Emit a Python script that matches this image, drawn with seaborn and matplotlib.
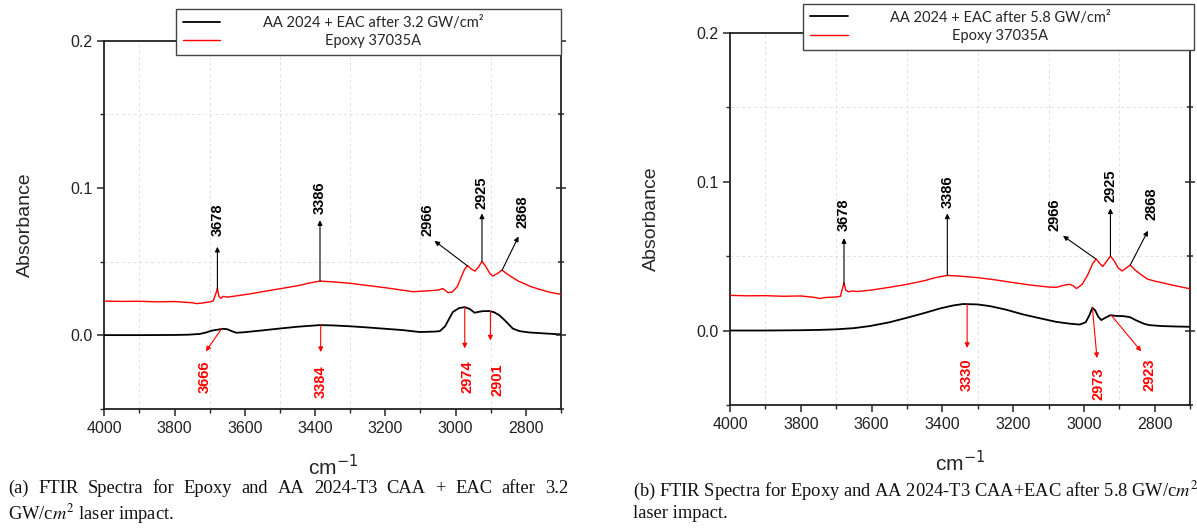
import numpy as np
import pandas as pd
import seaborn as sns
import matplotlib.pyplot as plt
from matplotlib.ticker import MultipleLocator

# ---- panel (a): 3.2 GW/cm2 ----
wn_a_epoxy = [4000, 3950, 3900, 3850, 3800, 3750, 3737, 3720, 3700, 3690, 3682, 3678, 3674,
              3668, 3662, 3650, 3620, 3580, 3538, 3500, 3444, 3420, 3386, 3350, 3300, 3254,
              3200, 3150, 3121, 3083, 3050, 3036, 3022, 3010, 2995, 2984, 2975, 2966, 2955,
              2945, 2935, 2925, 2915, 2903, 2894, 2880, 2868, 2855, 2837, 2820, 2800, 2789,
              2760, 2730, 2700]
abs_a_epoxy = [0.0231, 0.0229, 0.0230, 0.0226, 0.0228, 0.0220, 0.0214, 0.0218, 0.0226, 0.0232,
               0.0285, 0.0318, 0.0265, 0.0250, 0.0263, 0.0258, 0.0268, 0.0282, 0.0300, 0.0315,
               0.0338, 0.0352, 0.0367, 0.0362, 0.0352, 0.0338, 0.0322, 0.0305, 0.0295, 0.0300,
               0.0306, 0.0316, 0.0289, 0.0292, 0.0330, 0.0395, 0.0445, 0.0472, 0.0448, 0.0435,
               0.0462, 0.0500, 0.0470, 0.0420, 0.0401, 0.0420, 0.0442, 0.0418, 0.0390, 0.0365,
               0.0345, 0.0332, 0.0310, 0.0290, 0.0277]
wn_a_eac = [4000, 3900, 3800, 3760, 3728, 3710, 3695, 3680, 3662, 3650, 3635, 3624, 3600,
            3550, 3500, 3450, 3387, 3350, 3300, 3250, 3200, 3150, 3102, 3060, 3045, 3030,
            3008, 2990, 2974, 2960, 2946, 2935, 2922, 2903, 2890, 2875, 2860, 2837, 2818,
            2790, 2750, 2700]
abs_a_eac = [0.0000, 0.0000, 0.0001, 0.0003, 0.0008, 0.0018, 0.0030, 0.0036, 0.0043, 0.0040,
             0.0025, 0.0016, 0.0020, 0.0032, 0.0045, 0.0057, 0.0068, 0.0066, 0.0060, 0.0052,
             0.0043, 0.0034, 0.0021, 0.0024, 0.0027, 0.0060, 0.0157, 0.0184, 0.0190, 0.0178,
             0.0152, 0.0158, 0.0163, 0.0163, 0.0155, 0.0134, 0.0100, 0.0044, 0.0027, 0.0018,
             0.0012, 0.0005]

# ---- panel (b): 5.8 GW/cm2 ----
wn_b_epoxy = [4000, 3950, 3900, 3850, 3800, 3760, 3746, 3730, 3700, 3688, 3682, 3678, 3673,
              3665, 3655, 3640, 3600, 3550, 3500, 3450, 3420, 3386, 3350, 3300, 3250, 3200,
              3150, 3100, 3078, 3055, 3040, 3030, 3021, 3005, 2990, 2975, 2965, 2955, 2947,
              2937, 2925, 2915, 2903, 2892, 2880, 2869, 2855, 2833, 2820, 2800, 2777, 2750,
              2720, 2700]
abs_b_epoxy = [0.0236, 0.0233, 0.0234, 0.0230, 0.0232, 0.0222, 0.0215, 0.0222, 0.0225, 0.0230,
               0.0285, 0.0320, 0.0270, 0.0260, 0.0265, 0.0262, 0.0272, 0.0290, 0.0310, 0.0335,
               0.0355, 0.0370, 0.0365, 0.0355, 0.0340, 0.0322, 0.0305, 0.0292, 0.0290, 0.0305,
               0.0310, 0.0300, 0.0282, 0.0310, 0.0370, 0.0450, 0.0480, 0.0450, 0.0430, 0.0460,
               0.0500, 0.0470, 0.0420, 0.0400, 0.0420, 0.0440, 0.0405, 0.0366, 0.0345, 0.0332,
               0.0320, 0.0305, 0.0290, 0.0280]
wn_b_eac = [4000, 3900, 3800, 3750, 3700, 3650, 3605, 3550, 3501, 3450, 3407, 3370, 3341,
            3300, 3266, 3220, 3172, 3120, 3078, 3040, 3012, 2995, 2985, 2976, 2968, 2960,
            2951, 2940, 2925, 2910, 2890, 2870, 2852, 2830, 2814, 2780, 2740, 2700]
abs_b_eac = [0.0000, 0.0000, 0.0002, 0.0004, 0.0008, 0.0016, 0.0030, 0.0055, 0.0085, 0.0118,
             0.0148, 0.0168, 0.0178, 0.0175, 0.0164, 0.0140, 0.0108, 0.0080, 0.0058, 0.0046,
             0.0040, 0.0055, 0.0100, 0.0153, 0.0135, 0.0095, 0.0070, 0.0085, 0.0103, 0.0098,
             0.0097, 0.0090, 0.0068, 0.0045, 0.0036, 0.0030, 0.0027, 0.0025]

# peak labels: label, peak (x, y), arrow tip (x, y), text anchor (x, y)
marks_a_black = [("3678", (3678, 0.031), (3678, 0.060), (3678, 0.067)),
                 ("3386", (3386, 0.0367), (3386, 0.078), (3386, 0.082)),
                 ("2966", (2966, 0.047), (3060, 0.064), (3080, 0.067)),
                 ("2925", (2925, 0.050), (2925, 0.0826), (2925, 0.086)),
                 ("2868", (2868, 0.044), (2821, 0.067), (2810, 0.073))]
marks_a_red = [("3666", (3666, 0.0043), (3711, -0.011), (3714, -0.017)),
               ("3384", (3384, 0.0068), (3384, -0.0115), (3384, -0.0205)),
               ("2974", (2974, 0.019), (2974, -0.009), (2966, -0.017)),
               ("2901", (2901, 0.0163), (2901, -0.0036), (2882, -0.0195))]
marks_b_black = [("3678", (3678, 0.031), (3678, 0.062), (3678, 0.067)),
                 ("3386", (3386, 0.037), (3386, 0.0786), (3386, 0.082)),
                 ("2966", (2966, 0.048), (3059, 0.0636), (3082, 0.067)),
                 ("2925", (2925, 0.050), (2925, 0.082), (2925, 0.086)),
                 ("2868", (2869, 0.044), (2819, 0.067), (2810, 0.074))]
marks_b_red = [("3330", (3330, 0.0178), (3330, -0.0117), (3330, -0.019)),
               ("2973", (2976, 0.0153), (2963, -0.0185), (2960, -0.025)),
               ("2923", (2923, 0.0103), (2838, -0.014), (2814, -0.019))]

legend_a = ["AA 2024 + EAC after 3.2 GW/cm²", "Epoxy 37035A"]
legend_b = ["AA 2024 + EAC after 5.8 GW/cm²", "Epoxy 37035A"]
caption_a1 = "(a) FTIR Spectra for Epoxy and AA 2024-T3 CAA + EAC after 3.2"
caption_a2 = "GW/c$m^2$ laser impact."
caption_b = ("(b) FTIR Spectra for Epoxy and AA 2024-T3 CAA+EAC after 5.8 GW/c$m^2$\n"
             "laser impact.")

sns.set_theme(style="ticks")
plt.rcParams["font.family"] = ["Liberation Sans", "DejaVu Sans"]

NUM_FONT = ["Liberation Sans Narrow", "Liberation Sans", "DejaVu Sans"]
CAP = dict(fontsize=13.3, family=["Liberation Serif", "DejaVu Serif"],
           math_fontfamily="stix", color="#111111")
W, H = 1197, 528


def mark(ax, label, peak, tip, txt, color, above):
    ax.annotate("", xy=tip, xytext=peak,
                arrowprops=dict(arrowstyle="-|>", color=color, lw=0.8,
                                mutation_scale=7, shrinkA=0, shrinkB=0))
    ax.text(txt[0], txt[1], label, rotation=90, ha="center",
            va="bottom" if above else "top", color=color, fontsize=10.5,
            fontweight="bold", family=NUM_FONT)


def panel(ax, wn_e, ab_e, wn_k, ab_k, marks_k, marks_r, labels, leg_box):
    sns.lineplot(x=wn_k, y=ab_k, ax=ax, color="black", lw=1.3, sort=False,
                 estimator=None, zorder=3)
    sns.lineplot(x=wn_e, y=ab_e, ax=ax, color="#ff0000", lw=1.0, sort=False,
                 estimator=None, zorder=3)
    ax.set_xlim(4000, 2700)
    ax.set_ylim(-0.05, 0.2)
    ax.xaxis.set_major_locator(MultipleLocator(200))
    ax.xaxis.set_minor_locator(MultipleLocator(100))
    ax.yaxis.set_major_locator(MultipleLocator(0.1))
    ax.yaxis.set_minor_locator(MultipleLocator(0.05))
    ax.grid(which="minor", ls=(0, (3, 3)), color="#e2e2e2", lw=0.7)
    ax.grid(which="major", visible=False)
    ax.tick_params(which="major", direction="out", length=5, width=1.1,
                   labelsize=11.5, labelcolor="#222222")
    ax.tick_params(which="minor", direction="out", length=3, width=1.0)
    for s in ax.spines.values():
        s.set_linewidth(1.3)
        s.set_color("#222222")
    ax.set_xlabel("cm$^{-1}$", fontsize=15, labelpad=13)
    ax.set_ylabel("Absorbance", fontsize=14, labelpad=26)

    twin = ax.twinx()
    twin.set_ylim(ax.get_ylim())
    twin.yaxis.set_major_locator(MultipleLocator(0.1))
    twin.yaxis.set_minor_locator(MultipleLocator(0.05))
    twin.tick_params(which="both", direction="inout", labelright=False, width=1.1)
    twin.tick_params(which="major", length=7)
    twin.tick_params(which="minor", length=4)
    for s in twin.spines.values():
        s.set_visible(False)

    for lab, p, t, xy in marks_k:
        mark(ax, lab, p, t, xy, "black", True)
    for lab, p, t, xy in marks_r:
        mark(ax, lab, p, t, xy, "#ff0000", False)

    lines = ax.get_lines()[:2]
    leg = twin.legend(lines, labels, loc="upper left", bbox_to_anchor=leg_box,
                      mode="expand", borderaxespad=0, frameon=True, fancybox=False,
                      framealpha=1, edgecolor="#444444", handlelength=2.6,
                      handletextpad=2.9, borderpad=0.45, labelspacing=0.3,
                      prop=dict(family=["Lato", "DejaVu Sans"], size=10.5))
    leg.get_frame().set_linewidth(1.0)
    leg.set_zorder(10)
    return leg


fig = plt.figure(figsize=(11.97, 5.28), dpi=100)
ax_a = fig.add_axes([0.0871, 0.2259, 0.3816, 0.697])
ax_b = fig.add_axes([0.6099, 0.2330, 0.3843, 0.7051])

leg_a = panel(ax_a, wn_a_epoxy, abs_a_epoxy, wn_a_eac, abs_a_eac,
              marks_a_black, marks_a_red, legend_a, (0.157, 0.946, 0.843, 0.14))
leg_b = panel(ax_b, wn_b_epoxy, abs_b_epoxy, wn_b_eac, abs_b_eac,
              marks_b_black, marks_b_red, legend_b, (0.159, 0.937, 0.850, 0.14))

# caption (a): first line justified between x=8 and x=568 px
words_a = [fig.text(8 / W, 1 - 480 / H, w, ha="left", va="top", **CAP)
           for w in caption_a1.split(" ")]
fig.text(8 / W, 1 - 502 / H, caption_a2, ha="left", va="top", **CAP)
fig.text(633 / W, 1 - 480 / H, caption_b, ha="left", va="top", linespacing=1.15, **CAP)

fig.canvas.draw()
renderer = fig.canvas.get_renderer()
widths = [t.get_window_extent(renderer).width for t in words_a]
gap = (568 - 8 - sum(widths)) / (len(words_a) - 1)
xpos = 8
for t, w in zip(words_a, widths):
    t.set_x(xpos / W)
    xpos += w + gap

# centre the legend labels against each other
for leg in (leg_a, leg_b):
    texts = leg.get_texts()
    tw = [t.get_window_extent(renderer).width for t in texts]
    for t, w in zip(texts, tw):
        t.set_x((max(tw) - w) / 2)

fig.savefig("out.png", dpi=100)
